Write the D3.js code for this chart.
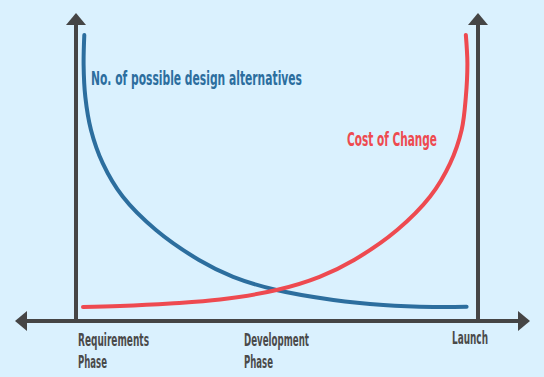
<!DOCTYPE html>
<html>
<head>
<meta charset="utf-8">
<script src="https://cdn.jsdelivr.net/npm/d3@7"></script>
<style>
  html, body { margin: 0; padding: 0; background: #daf1fe; }
  svg { display: block; }
  .lbl { font-family: "DejaVu Sans Condensed", "DejaVu Sans", sans-serif; font-weight: bold; }
</style>
</head>
<body>
<div id="chart"></div>
<script>
const W = 544, H = 377;

// progress through the project (0 = requirements, 100 = launch)
const progress = [0.34, 0.16, 0.6, 2.08, 5.13, 10.34, 19.0, 30.2, 39.1, 50.4, 65.2, 78.2, 91.2, 99.9];
const alternatives = [100, 89, 77.3, 65.1, 52.9, 40.6, 28.3, 17.3, 11.1, 6.25, 2.6, 0.74, 0, 0.1];

const costProgress = [0, 9.6, 22.7, 35.7, 50.4, 61.6, 70.6, 81.8, 90.4, 95.6, 98.6, 99.7, 100.1, 99.7];
const costValues = [0, 0.37, 1.3, 2.75, 6.25, 11.1, 17.3, 28.3, 40.6, 52.8, 65.1, 77.3, 89.6, 100];

const phaseNames = [["Requirements", "Phase"], ["Development", "Phase"], ["Launch"]];
const phaseAt = [0, 50, 100];

const blue = '#2c6e9e', red = '#ee4a50', axisColor = '#454545';

const svg = d3.select('#chart').append('svg')
  .attr('width', W)
  .attr('height', H);

const x = d3.scaleLinear().domain([0, 100]).range([83, 467]);
const y = d3.scaleLinear().domain([0, 100]).range([307, 35]);

const leftX = x(0) - 7, rightX = x(100) + 11, baseY = 321;

// arrowheads
const arrow = (tx, ty, dir) => {
  const s = 10, l = 12;
  let pts;
  if (dir === 'up') pts = [[tx, ty], [tx - s, ty + l], [tx + s, ty + l]];
  if (dir === 'left') pts = [[tx, ty], [tx + l, ty - s], [tx + l, ty + s]];
  if (dir === 'right') pts = [[tx, ty], [tx - l, ty - s], [tx - l, ty + s]];
  svg.append('path')
    .attr('d', 'M' + pts.map(p => p.join(',')).join('L') + 'Z')
    .attr('fill', axisColor);
};

// axes
svg.append('line')
  .attr('x1', 20).attr('x2', 525)
  .attr('y1', baseY).attr('y2', baseY)
  .attr('stroke', axisColor).attr('stroke-width', 4);
arrow(15, baseY, 'left');
arrow(530, baseY, 'right');

[leftX, rightX].forEach(ax => {
  svg.append('line')
    .attr('x1', ax).attr('x2', ax)
    .attr('y1', baseY + 2).attr('y2', 22)
    .attr('stroke', axisColor).attr('stroke-width', 4);
  arrow(ax, 13, 'up');
});

// curves
const line = d3.line()
  .x(d => x(d[0]))
  .y(d => y(d[1]))
  .curve(d3.curveCatmullRom.alpha(0.5));

svg.append('path')
  .datum(progress.map((p, i) => [p, alternatives[i]]))
  .attr('d', line)
  .attr('fill', 'none')
  .attr('stroke', blue)
  .attr('stroke-width', 4)
  .attr('stroke-linecap', 'round');

svg.append('path')
  .datum(costProgress.map((p, i) => [p, costValues[i]]))
  .attr('d', line)
  .attr('fill', 'none')
  .attr('stroke', red)
  .attr('stroke-width', 4)
  .attr('stroke-linecap', 'round');

// series labels
svg.append('text')
  .attr('class', 'lbl')
  .attr('x', 91).attr('y', 85)
  .attr('font-size', 20)
  .attr('textLength', 211)
  .attr('lengthAdjust', 'spacingAndGlyphs')
  .attr('fill', blue)
  .text('No. of possible design alternatives');

svg.append('text')
  .attr('class', 'lbl')
  .attr('x', 347).attr('y', 146)
  .attr('font-size', 20)
  .attr('textLength', 90)
  .attr('lengthAdjust', 'spacingAndGlyphs')
  .attr('fill', red)
  .text('Cost of Change');

// phase labels
const labelX = [leftX + 2, x(phaseAt[1]) - 31, rightX - 26];
const lineWidths = [[71, 29], [65, 29], [36]];
phaseNames.forEach((lines, i) => {
  lines.forEach((t, j) => {
    svg.append('text')
      .attr('class', 'lbl')
      .attr('x', labelX[i])
      .attr('y', (i === 2 ? 344 : 346) + j * 22)
      .attr('font-size', 18)
      .attr('textLength', lineWidths[i][j])
      .attr('lengthAdjust', 'spacingAndGlyphs')
      .attr('fill', '#4a4a4a')
      .text(t);
  });
});
</script>
</body>
</html>
